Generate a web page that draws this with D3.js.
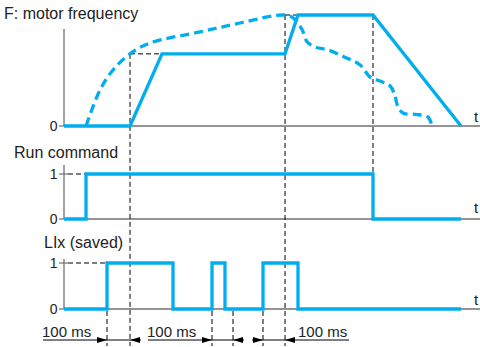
<!DOCTYPE html>
<html>
<head>
<meta charset="utf-8">
<script src="https://cdn.jsdelivr.net/npm/d3@7"></script>
<style>
  html, body { margin: 0; padding: 0; background: #fff; }
  svg { display: block; font-family: "Liberation Sans", Arial, sans-serif; }
</style>
</head>
<body>
<svg id="chart" width="480" height="347"></svg>
<script>
// ---------- DATA (time in abstract units 0..100, frequency in % of max) ----------
const panelTitles = ["F: motor frequency", "Run command", "LIx (saved)"];
const freqTickLabels = ["0"];
const binaryTickLabels = ["0", "1"];
const axisEndLabel = "t";

// Solid line: actual motor frequency
const freqSolidT = [0, 15.87, 23.56, 53.13, 56.25, 74.28, 95.43];
const freqSolidV = [0, 0, 65, 65, 100, 100, 0];

// Dashed line: frequency curve (estimated)
const freqDashT = [5.3, 8.65, 11.78, 15.87, 20.67, 32.69, 42.31, 52.64, 55.05, 57.2, 58.41, 60.5, 63.5, 67.5, 71.2, 73.6, 76.0, 78.4, 79.5, 80.3, 81.6, 84.5, 87.5, 88.46];
const freqDashV = [0, 32.4, 50.5, 65, 74.8, 84.7, 92.8, 100, 97.5, 87, 76, 71, 68.5, 62, 55, 44, 40.5, 36, 28, 17, 11.5, 10.5, 8, 0];

// Run command (step signal)
const runT = [0, 5.29, 74.28, 95.43];
const runV = [0, 1, 0, 0];

// LIx (saved) (step signal)
const lixT = [0, 10.34, 26.2, 35.58, 38.7, 47.84, 56.25, 95.43];
const lixV = [0, 1, 0, 1, 0, 1, 0, 0];

// 100 ms interval annotations
const intervalStart = [10.34, 35.58, 47.84];
const intervalEnd = [15.87, 40.63, 53.13];
const intervalLabel = ["100 ms", "100 ms", "100 ms"];
const intervalSide = ["left", "left", "right"];

// ---------- DRAWING ----------
const svg = d3.select("#chart");
const BLUE = "#00AEEF";
const GRAY = "#707070";

const x = d3.scaleLinear().domain([0, 100]).range([64, 480]);
const yF = d3.scaleLinear().domain([0, 100]).range([126, 15]);
const yRun = d3.scaleLinear().domain([0, 1]).range([219, 174]);
const yLix = d3.scaleLinear().domain([0, 1]).range([309, 263]);

const axisX0 = x(0);

function drawAxes(yScale, yTop, ticks, tickVals, baseY) {
  svg.append("line")
    .attr("x1", axisX0).attr("x2", axisX0)
    .attr("y1", yTop).attr("y2", yScale(0))
    .attr("stroke", GRAY).attr("stroke-width", 1.3);
  svg.append("line")
    .attr("x1", axisX0).attr("x2", 480)
    .attr("y1", yScale(0)).attr("y2", yScale(0))
    .attr("stroke", GRAY).attr("stroke-width", 1.5);
  ticks.forEach((lab, i) => {
    const v = tickVals[i];
    const yy = yScale(v);
    svg.append("line")
      .attr("x1", axisX0 - 5).attr("x2", v === 0 ? axisX0 : axisX0 + 4)
      .attr("y1", yy).attr("y2", yy)
      .attr("stroke", GRAY).attr("stroke-width", 1.2);
    svg.append("text")
      .attr("x", axisX0 - 6.5).attr("y", yy + 5)
      .attr("text-anchor", "end")
      .attr("font-size", 14).attr("fill", "#222")
      .text(lab);
  });
  svg.append("text")
    .attr("x", 474).attr("y", baseY)
    .attr("font-size", 15).attr("fill", "#222")
    .text(axisEndLabel);
}

function dashLine(x1, y1, x2, y2) {
  svg.append("line")
    .attr("x1", x1).attr("y1", y1).attr("x2", x2).attr("y2", y2)
    .attr("stroke", "#000").attr("stroke-width", 1)
    .attr("stroke-dasharray", "5,3");
}

// Titles
svg.append("text").attr("x", 4).attr("y", 19).attr("font-size", 16).attr("fill", "#222").text(panelTitles[0]);
svg.append("text").attr("x", 14).attr("y", 158).attr("font-size", 16).attr("fill", "#222").text(panelTitles[1]);
svg.append("text").attr("x", 44).attr("y", 248).attr("font-size", 16).attr("fill", "#222").text(panelTitles[2]);

drawAxes(yF, 29, freqTickLabels, [0], 122);
drawAxes(yRun, 165, binaryTickLabels, [0, 1], 213);
drawAxes(yLix, 259, binaryTickLabels, [0, 1], 305);

// Guides
const arrowY = 340;
dashLine(x(freqSolidT[1]), yF(65), x(freqSolidT[2]), yF(65));
dashLine(x(freqSolidT[1]), yF(65), x(freqSolidT[1]), 346);
dashLine(x(freqSolidT[3]), yF(100), x(freqSolidT[4]), yF(100));
dashLine(x(freqSolidT[3]), yF(100), x(freqSolidT[3]), 346);
dashLine(x(freqSolidT[5]), yF(100), x(freqSolidT[5]), yRun(1));
dashLine(axisX0 + 4, yRun(1), x(runT[1]), yRun(1));
dashLine(axisX0 + 4, yLix(1), x(lixT[1]), yLix(1));
[lixT[1], lixT[3], intervalEnd[1], lixT[5]].forEach(t => {
  dashLine(x(t), yLix(0) + 2, x(t), 346);
});

// Signals
const lineF = d3.line().x(d => x(d[0])).y(d => yF(d[1]));
svg.append("path")
  .attr("d", d3.line().x(d => x(d[0])).y(d => yF(d[1])).curve(d3.curveCatmullRom.alpha(0.5))(freqDashT.map((t, i) => [t, freqDashV[i]])))
  .attr("fill", "none").attr("stroke", BLUE).attr("stroke-width", 3.3)
  .attr("stroke-dasharray", "9,5");
svg.append("path")
  .attr("d", lineF(freqSolidT.map((t, i) => [t, freqSolidV[i]])))
  .attr("fill", "none").attr("stroke", BLUE).attr("stroke-width", 3.3)
  .attr("stroke-linejoin", "miter");

svg.append("path")
  .attr("d", d3.line().x(d => x(d[0])).y(d => yRun(d[1])).curve(d3.curveStepAfter)(runT.map((t, i) => [t, runV[i]])))
  .attr("fill", "none").attr("stroke", BLUE).attr("stroke-width", 3.3);
svg.append("path")
  .attr("d", d3.line().x(d => x(d[0])).y(d => yLix(d[1])).curve(d3.curveStepAfter)(lixT.map((t, i) => [t, lixV[i]])))
  .attr("fill", "none").attr("stroke", BLUE).attr("stroke-width", 3.3);

// Interval arrows
function arrowHead(tipX, dir) {
  const L = 10, H = 3;
  svg.append("path")
    .attr("d", `M${tipX},${arrowY} L${tipX - dir * L},${arrowY - H} L${tipX - dir * L},${arrowY + H} Z`)
    .attr("fill", "#000");
}
intervalStart.forEach((s, i) => {
  const xs = x(s), xe = x(intervalEnd[i]);
  let l1, l2;
  if (intervalSide[i] === "left") {
    l1 = xs - 64; l2 = xe + 11;
    svg.append("text").attr("x", xs - 65).attr("y", arrowY - 3)
      .attr("font-size", 15).attr("fill", "#222").text(intervalLabel[i]);
  } else {
    l1 = xs - 11; l2 = xe + 64;
    svg.append("text").attr("x", xe + 13).attr("y", arrowY - 3)
      .attr("font-size", 15).attr("fill", "#222").text(intervalLabel[i]);
  }
  svg.append("line").attr("x1", l1).attr("x2", l2).attr("y1", arrowY).attr("y2", arrowY)
    .attr("stroke", "#000").attr("stroke-width", 1);
  arrowHead(xs, 1);
  arrowHead(xe, -1);
});
</script>
</body>
</html>
